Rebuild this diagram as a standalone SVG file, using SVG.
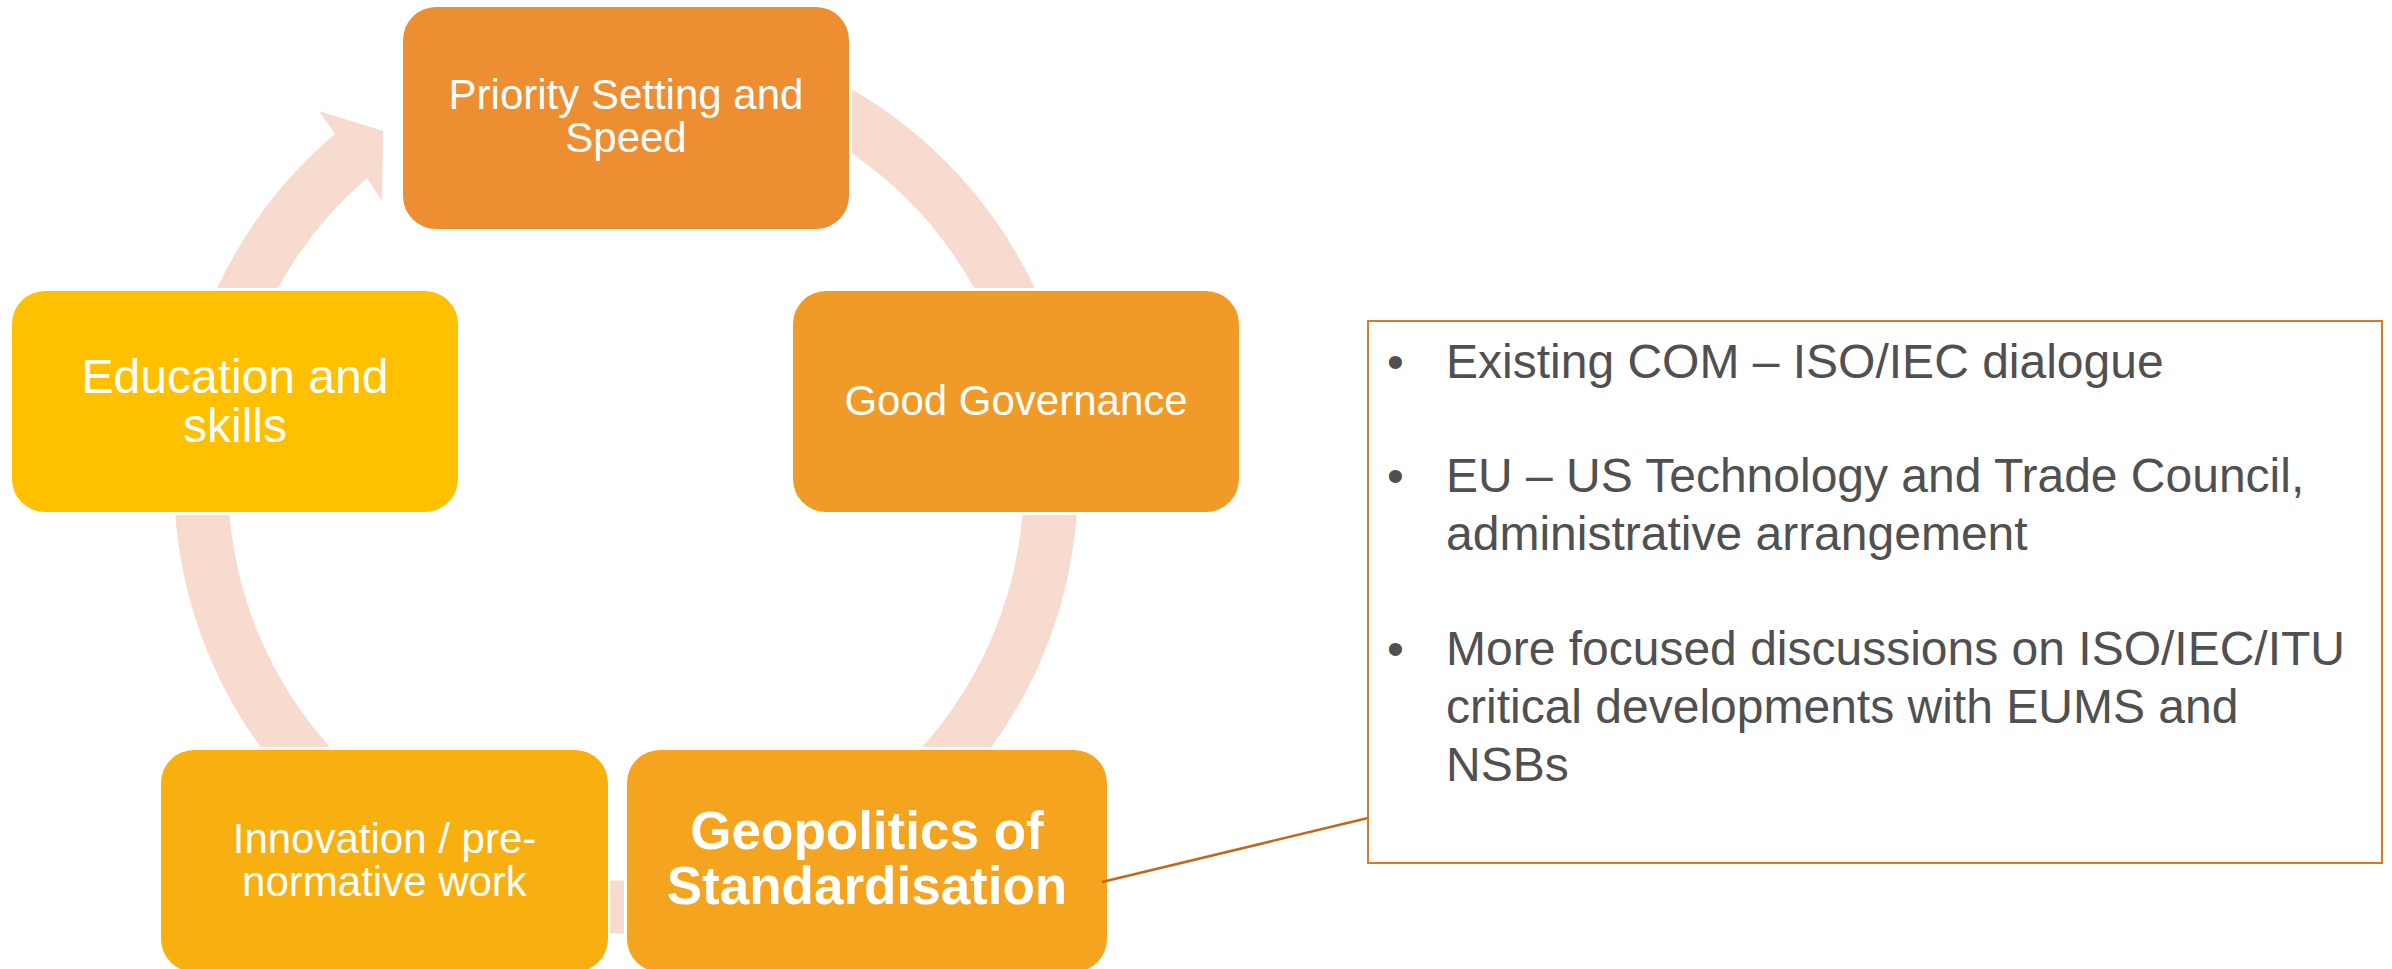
<svg xmlns="http://www.w3.org/2000/svg" width="2392" height="969" viewBox="0 0 2392 969">
<style>
.arc{fill:#F7DBCF;stroke:none}
.node text{fill:#FFFFFF;font-family:"Liberation Sans",Arial,sans-serif;text-anchor:middle}
.n42{font-size:42px}
.n48{font-size:48px}
.bold{font-size:53px;font-weight:bold}
.callout text{fill:#505050;font-family:"Liberation Sans",Arial,sans-serif;font-size:48px}
</style>
<rect width="2392" height="969" fill="#FFFFFF"/>
<g id="connectors">
<path class="arc" d="M852,89.6 A452,452 0 0 1 1034.7,288 L974.1,288 A398,398 0 0 0 852,153.4 Z"/>
<path class="arc" d="M1076.7,515 A452,452 0 0 1 991.4,747 L922.1,747 A398,398 0 0 0 1022.5,515 Z"/>
<rect class="arc" x="610" y="880.5" width="14" height="53"/>
<path class="arc" d="M260.6,747 A452,452 0 0 1 175.3,515 L229.5,515 A398,398 0 0 0 329.9,747 Z"/>
<path class="arc" d="M217.3,288 A452,452 0 0 1 335,134 L319,111 L383,131 L382,201 L367,178 A398,398 0 0 0 277.9,288 Z"/>
</g>
<g id="node-priority" class="node">
<rect x="403" y="7" width="446" height="222" rx="33" fill="#ED8E32"/>
<text class="n42" x="626" y="109">Priority Setting and</text>
<text class="n42" x="626" y="152">Speed</text>
</g>
<g id="node-governance" class="node">
<rect x="793" y="291" width="446" height="221" rx="33" fill="#F09A28"/>
<text class="n42" x="1016" y="415">Good Governance</text>
</g>
<g id="node-education" class="node">
<rect x="12" y="291" width="446" height="221" rx="33" fill="#FFC000"/>
<text class="n48" x="235" y="393">Education and</text>
<text class="n48" x="235" y="442">skills</text>
</g>
<g id="node-innovation" class="node">
<rect x="161" y="750" width="447" height="222" rx="33" fill="#F8B010"/>
<text class="n42" x="384.5" y="853">Innovation / pre-</text>
<text class="n42" x="384.5" y="896">normative work</text>
</g>
<g id="node-geopolitics" class="node">
<rect x="627" y="750" width="480" height="222" rx="33" fill="#F4A41E"/>
<text class="bold" x="867" y="849">Geopolitics of</text>
<text class="bold" x="867" y="904">Standardisation</text>
</g>
<g id="callout-connector">
<line x1="1102" y1="882" x2="1368" y2="818" stroke="#C4661B" stroke-width="2.5"/>
</g>
<g id="callout" class="callout">
<rect x="1368" y="321" width="1014" height="542" fill="#FFFFFF" stroke="#D37A2C" stroke-width="2"/>
<text x="1387" y="378">•</text>
<text x="1446" y="378">Existing COM – ISO/IEC dialogue</text>
<text x="1387" y="492">•</text>
<text x="1446" y="492">EU – US Technology and Trade Council,</text>
<text x="1446" y="550">administrative arrangement</text>
<text x="1387" y="665">•</text>
<text x="1446" y="665">More focused discussions on ISO/IEC/ITU</text>
<text x="1446" y="723">critical developments with EUMS and</text>
<text x="1446" y="781">NSBs</text>
</g>
</svg>
